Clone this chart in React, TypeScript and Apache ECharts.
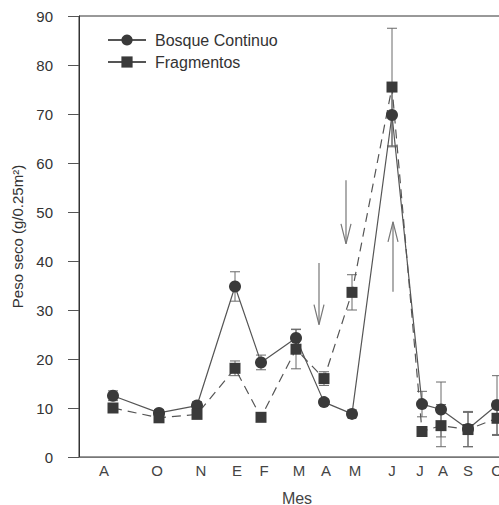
import React, { useEffect, useRef } from "react";
import * as echarts from "echarts";

// Posición de muestreo (eje x) de cada mes
const posiciones = [34, 80, 118, 156, 182, 217, 245, 273, 313, 343, 362, 389, 418];
const meses = ["A", "O", "N", "E", "F", "M", "A", "M", "J", "J", "A", "S", "O"];
const posMeses = [25, 78, 122, 158, 185, 220, 247, 276, 313, 341, 364, 389, 418];

const bosque = [12.5, 9, 10.5, 34.8, 19.3, 24.3, 11.2, 8.8, 69.8, 10.8, 9.7, 5.7, 10.6];
const bosqueErr = [1, 0.7, 0.8, 3, 1.5, 1.8, 0.6, 0.8, 6.5, 2.6, 5.6, 3.6, 6];
const fragmentos = [10, 8, 8.7, 18.1, 8.1, 22, 16, 33.6, 75.5, 5.2, 6.4, 5.6, 7.9];
const fragErr = [0.5, 0.6, 0.5, 1.5, 0.6, 4, 1.4, 3.6, 12, 0.6, 4.3, 3.5, 3.5];

// Flechas: [x, cola, punta]
const flechas = [
  [240, 39.6, 27],
  [267, 56.5, 43.5],
  [314, 33.7, 48],
];

const yTicks = { min: 0, max: 90, interval: 10 };
const FONT = "'Liberation Sans', Arial, sans-serif";

function errorBarSeries(vals: number[], errs: number[]) {
  return {
    type: "custom",
    silent: true,
    z: 1,
    data: posiciones.map((x, i) => [x, vals[i], errs[i]]),
    renderItem: (params: any, api: any) => {
      const x = api.value(0);
      const y = api.value(1);
      const e = api.value(2);
      const top = api.coord([x, y + e]);
      const bot = api.coord([x, y - e]);
      const w = 5;
      const st = { stroke: "#6a6a6a", lineWidth: 1 };
      return {
        type: "group",
        children: [
          { type: "line", shape: { x1: top[0], y1: top[1], x2: bot[0], y2: bot[1] }, style: st },
          { type: "line", shape: { x1: top[0] - w, y1: top[1], x2: top[0] + w, y2: top[1] }, style: st },
          { type: "line", shape: { x1: bot[0] - w, y1: bot[1], x2: bot[0] + w, y2: bot[1] }, style: st },
        ],
      };
    },
  };
}

export default function App() {
  const ref = useRef<HTMLDivElement>(null);
  useEffect(() => {
    document.body.style.margin = "0";
    const chart = echarts.init(ref.current!, null, { renderer: "svg" });
    chart.setOption({
      animation: false,
      backgroundColor: "#ffffff",
      grid: {
        left: 79,
        top: 16,
        right: -16,
        bottom: 48,
        show: true,
        borderColor: "#333",
        borderWidth: 1,
        outerBoundsMode: "none",
        containLabel: false,
      },
      legend: {
        left: 102,
        top: 27,
        orient: "vertical",
        itemWidth: 38,
        itemHeight: 14,
        itemGap: 6,
        lineStyle: { type: "solid" },
        textStyle: { fontFamily: FONT, fontSize: 16, color: "#333", padding: [0, 0, 0, 4] },
        data: ["Bosque Continuo", "Fragmentos"],
      },
      xAxis: {
        type: "value",
        min: 0,
        max: 436,
        name: "Mes",
        nameLocation: "middle",
        nameGap: 33,
        nameTextStyle: { fontFamily: FONT, fontSize: 16, color: "#444" },
        axisLine: { show: true, lineStyle: { color: "#777", width: 1 } },
        axisTick: { show: false },
        splitLine: { show: false },
        axisLabel: {
          customValues: posMeses,
          formatter: (v: number) => meses[posMeses.indexOf(v)] ?? "",
          fontFamily: FONT,
          fontSize: 15,
          color: "#444",
          margin: 6,
        },
      },
      yAxis: {
        type: "value",
        ...yTicks,
        name: "Peso seco (g/0.25m²)",
        nameLocation: "middle",
        nameGap: 49,
        nameTextStyle: { fontFamily: FONT, fontSize: 15, color: "#333" },
        axisLine: { show: true, lineStyle: { color: "#333", width: 1 } },
        axisTick: { show: true, inside: false, length: 11, lineStyle: { color: "#555" } },
        splitLine: { show: false },
        axisLabel: { fontFamily: FONT, fontSize: 15, color: "#333", margin: 26 },
      },
      series: [
        errorBarSeries(bosque, bosqueErr),
        errorBarSeries(fragmentos, fragErr),
        {
          name: "Bosque Continuo",
          type: "line",
          z: 3,
          data: posiciones.map((x, i) => [x, bosque[i]]),
          symbol: "circle",
          symbolSize: 12,
          itemStyle: { color: "#3a3a3a" },
          lineStyle: { color: "#555", width: 1.2, type: "solid" },
        },
        {
          name: "Fragmentos",
          type: "line",
          z: 3,
          data: posiciones.map((x, i) => [x, fragmentos[i]]),
          symbol: "rect",
          symbolSize: 11,
          itemStyle: { color: "#3a3a3a" },
          lineStyle: { color: "#555", width: 1.2, type: [9, 6] },
        },
        {
          type: "custom",
          silent: true,
          z: 2,
          data: flechas,
          renderItem: (params: any, api: any) => {
            const x = api.value(0);
            const tail = api.coord([x, api.value(1)]);
            const head = api.coord([x, api.value(2)]);
            const dir = head[1] > tail[1] ? -1 : 1;
            const st = { stroke: "#777", lineWidth: 1.2, fill: "none" };
            return {
              type: "group",
              children: [
                { type: "line", shape: { x1: tail[0], y1: tail[1], x2: head[0], y2: head[1] }, style: st },
                {
                  type: "polyline",
                  shape: {
                    points: [
                      [head[0] - 5, head[1] + dir * 20],
                      [head[0], head[1]],
                      [head[0] + 5, head[1] + dir * 20],
                    ],
                  },
                  style: st,
                },
              ],
            };
          },
        },
      ],
    });
    return () => chart.dispose();
  }, []);
  return <div ref={ref} style={{ width: 499, height: 505 }} />;
}
